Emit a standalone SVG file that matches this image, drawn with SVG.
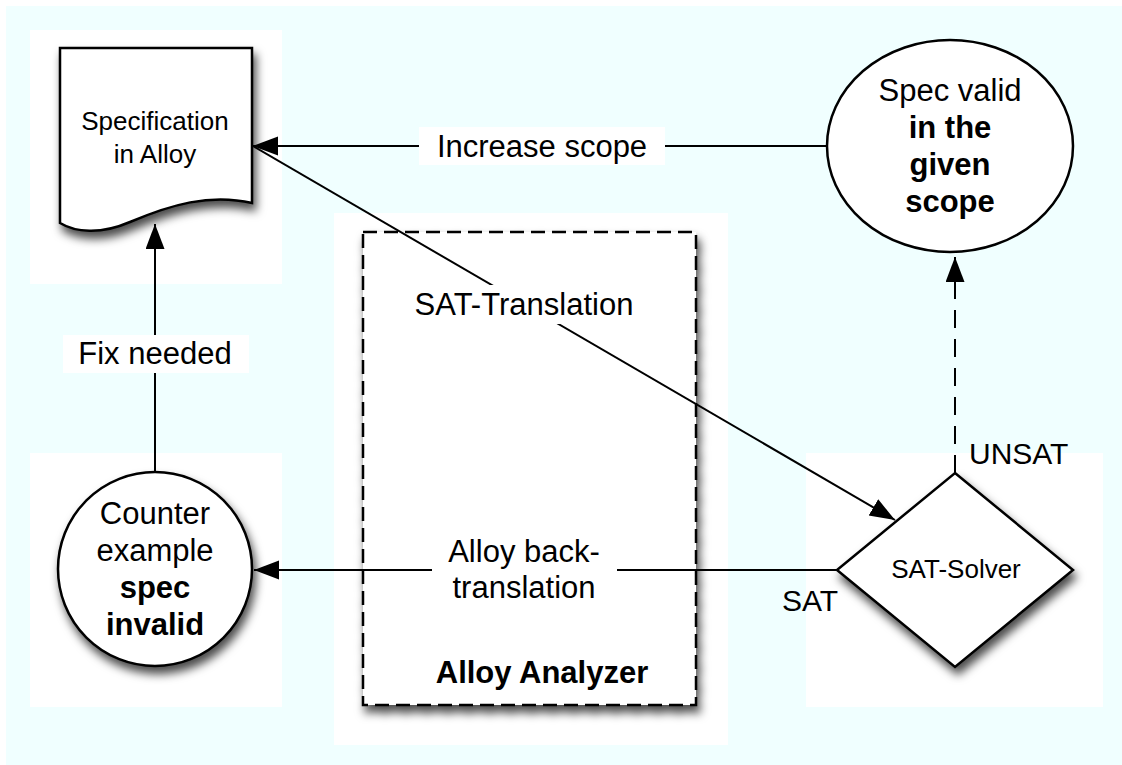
<svg xmlns="http://www.w3.org/2000/svg" width="1122" height="765" viewBox="0 0 1122 765">
<defs>
<style>
text{font-family:"Liberation Sans",Arial,sans-serif;fill:#000}
.n26{font-size:26px;text-anchor:middle}
.n31{font-size:31px;text-anchor:middle}
.b{font-weight:bold}
.lbl{font-size:31px;text-anchor:middle}
.shape{fill:#fff;stroke:#000;stroke-width:2.5}
.conn{fill:none;stroke:#000;stroke-width:2}
.lblbg{fill:#fff}
.pane{fill:#fff}
</style>
<filter id="sh" x="-20%" y="-20%" width="150%" height="150%">
<feDropShadow dx="3" dy="7" stdDeviation="5" flood-color="#000" flood-opacity="0.7"/>
</filter>
<marker id="arr" markerUnits="userSpaceOnUse" markerWidth="26" markerHeight="20" refX="25" refY="9.5" orient="auto">
<path d="M0,0 L25,9.5 L0,19 Z" fill="#000"/>
</marker>
</defs>
<rect x="6" y="6" width="1116" height="759" fill="#f0ffff"/>
<rect class="pane" x="30" y="30" width="252" height="254"/>
<rect class="pane" x="30" y="453" width="252" height="254"/>
<rect class="pane" x="334" y="213" width="394" height="532"/>
<rect class="pane" x="806" y="453" width="297" height="254"/>

<g id="alloy-analyzer">
<rect x="363" y="232" width="333" height="473" fill="#fff" stroke="#000" stroke-width="2.5" stroke-dasharray="14,7" filter="url(#sh)"/>
<text class="n31 b" x="542" y="683">Alloy Analyzer</text>
</g>

<g id="connectors">
<line class="conn" x1="827" y1="146" x2="253" y2="146" marker-end="url(#arr)"/>
<line class="conn" x1="253" y1="146" x2="895" y2="520" marker-end="url(#arr)"/>
<line class="conn" x1="155" y1="472" x2="155" y2="224" marker-end="url(#arr)"/>
<line class="conn" x1="837" y1="570" x2="254" y2="570" marker-end="url(#arr)"/>
<line class="conn" x1="955" y1="473" x2="955" y2="257" stroke-dasharray="18,11" marker-end="url(#arr)"/>
<rect class="lblbg" x="419" y="127" width="246" height="38"/>
<text class="lbl" x="542" y="157">Increase scope</text>
<rect class="lblbg" x="63" y="335" width="186" height="38"/>
<text class="lbl" x="155" y="364">Fix needed</text>
<rect class="lblbg" x="398" y="285" width="252" height="39"/>
<text class="lbl" x="524" y="315">SAT-Translation</text>
<rect class="lblbg" x="432" y="530" width="185" height="78"/>
<text class="lbl" x="524" y="562">Alloy back-</text>
<text class="lbl" x="524" y="598">translation</text>
<text style="font-size:30px" x="969" y="464">UNSAT</text>
<text style="font-size:30px" x="782" y="611">SAT</text>
</g>

<g id="spec-doc">
<path class="shape" filter="url(#sh)" d="M60,48 L252,48 L252,203 C210,193 170,205 130,222 C100,235 75,232 60,223 Z"/>
<text class="n26" x="155" y="130">Specification</text>
<text class="n26" x="155" y="163">in Alloy</text>
</g>

<g id="spec-valid">
<ellipse class="shape" cx="950" cy="146" rx="123" ry="106"/>
<text class="n31" x="950" y="101">Spec valid</text>
<text class="n31 b" x="950" y="138">in the</text>
<text class="n31 b" x="950" y="175">given</text>
<text class="n31 b" x="950" y="212">scope</text>
</g>

<g id="counter-example">
<circle class="shape" filter="url(#sh)" cx="155" cy="569" r="97"/>
<text class="n31" x="155" y="524">Counter</text>
<text class="n31" x="155" y="561">example</text>
<text class="n31 b" x="155" y="598">spec</text>
<text class="n31 b" x="155" y="635">invalid</text>
</g>

<g id="sat-solver">
<path class="shape" filter="url(#sh)" d="M955,473 L1073,570 L955,667 L837,570 Z"/>
<text class="n26" x="956" y="578">SAT-Solver</text>
</g>
</svg>
